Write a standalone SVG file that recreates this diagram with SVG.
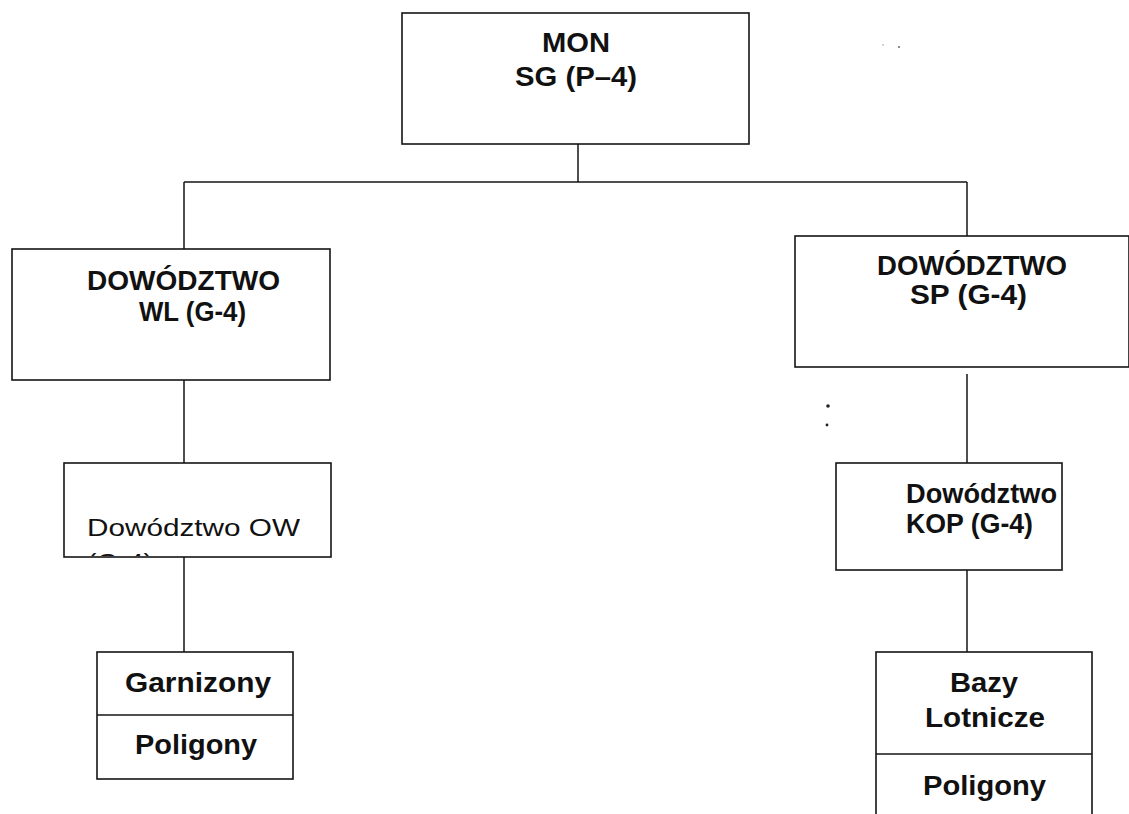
<svg xmlns="http://www.w3.org/2000/svg" width="1129" height="814" viewBox="0 0 1129 814">
<style>
.box{fill:#fff;stroke:#141414;stroke-width:1.6}
.ln{fill:none;stroke:#141414;stroke-width:1.5}
.b{font-family:"Liberation Sans",Arial,sans-serif;font-weight:bold;font-size:27px;fill:#111}
.r{font-family:"Liberation Sans",Arial,sans-serif;font-size:23px;fill:#111}
</style>
<defs>
<clipPath id="owclip"><rect x="64" y="463" width="267" height="93"/></clipPath>
</defs>
<rect width="1129" height="814" fill="#fff"/>
<g id="connectors">
<line class="ln" x1="578" y1="144" x2="578" y2="182"/>
<line class="ln" x1="184" y1="182" x2="967" y2="182"/>
<line class="ln" x1="184" y1="182" x2="184" y2="249"/>
<line class="ln" x1="967" y1="182" x2="967" y2="236"/>
<line class="ln" x1="184" y1="380" x2="184" y2="463"/>
<line class="ln" x1="184" y1="557" x2="184" y2="652"/>
<line class="ln" x1="967" y1="374" x2="967" y2="463"/>
<line class="ln" x1="967" y1="570" x2="967" y2="652"/>
</g>
<g id="mon">
<rect class="box" x="402" y="13" width="347" height="131"/>
<text class="b" x="542" y="52" textLength="68" lengthAdjust="spacingAndGlyphs">MON</text>
<text class="b" x="515" y="86" textLength="122" lengthAdjust="spacingAndGlyphs">SG (P–4)</text>
</g>
<g id="wl">
<rect class="box" x="12" y="249" width="318" height="131"/>
<text class="b" x="87" y="290" textLength="193" lengthAdjust="spacingAndGlyphs">DOWÓDZTWO</text>
<text class="b" x="139" y="321" textLength="107" lengthAdjust="spacingAndGlyphs">WL (G-4)</text>
</g>
<g id="sp">
<rect class="box" x="795" y="236" width="334" height="131"/>
<text class="b" x="877" y="275" textLength="190" lengthAdjust="spacingAndGlyphs">DOWÓDZTWO</text>
<text class="b" x="910" y="304" textLength="117" lengthAdjust="spacingAndGlyphs">SP (G-4)</text>
</g>
<g id="ow">
<rect class="box" x="64" y="463" width="267" height="94"/>
<g clip-path="url(#owclip)">
<text class="r" x="87" y="536" textLength="213" lengthAdjust="spacingAndGlyphs">Dowództwo OW</text>
<text class="r" x="87" y="571" textLength="66" lengthAdjust="spacingAndGlyphs">(G-4)</text>
</g>
</g>
<g id="kop">
<rect class="box" x="836" y="463" width="226" height="107"/>
<text class="b" x="906" y="503" textLength="151" lengthAdjust="spacingAndGlyphs">Dowództwo</text>
<text class="b" x="906" y="533" textLength="127" lengthAdjust="spacingAndGlyphs">KOP (G-4)</text>
</g>
<g id="garnizony">
<rect class="box" x="97" y="652" width="196" height="127"/>
<line class="ln" x1="97" y1="715" x2="293" y2="715"/>
<text class="b" x="125" y="692" textLength="146" lengthAdjust="spacingAndGlyphs">Garnizony</text>
<text class="b" x="135" y="754" textLength="122" lengthAdjust="spacingAndGlyphs">Poligony</text>
</g>
<g id="bazy">
<rect class="box" x="876" y="652" width="216" height="170"/>
<line class="ln" x1="876" y1="754" x2="1092" y2="754"/>
<text class="b" x="950" y="692" textLength="68" lengthAdjust="spacingAndGlyphs">Bazy</text>
<text class="b" x="925" y="727" textLength="120" lengthAdjust="spacingAndGlyphs">Lotnicze</text>
<text class="b" x="923" y="795" textLength="123" lengthAdjust="spacingAndGlyphs">Poligony</text>
</g>
<g id="marks" fill="#222">
<circle cx="828" cy="406" r="1.8"/>
<circle cx="827" cy="425" r="1.4"/>
<circle cx="883" cy="45" r="0.8" fill="#999"/>
<circle cx="899" cy="47" r="1" fill="#666"/>
</g>
</svg>
